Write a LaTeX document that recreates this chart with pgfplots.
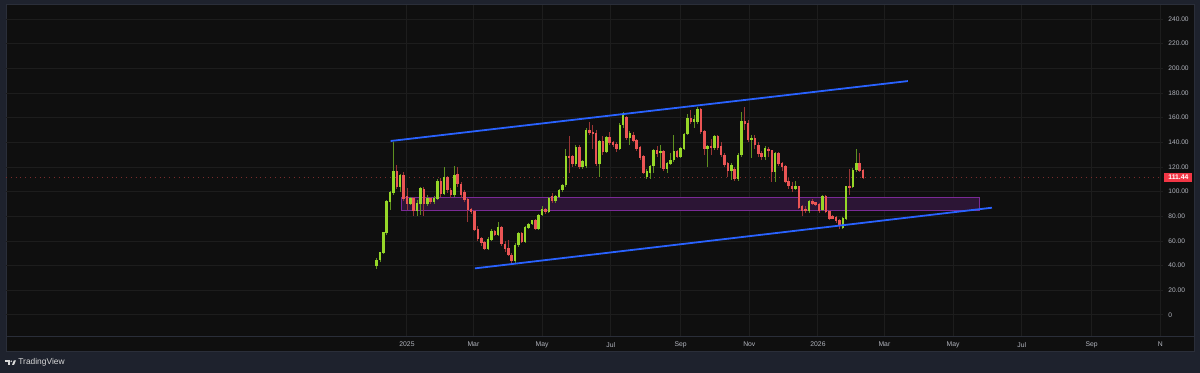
\documentclass[border=0pt]{standalone}
\usepackage{fontspec}
\setmainfont{Liberation Sans}
\usepackage{pgfplots}
\usepackage{pgfplotstable}
\pgfplotsset{compat=1.18}
\definecolor{outerbg}{HTML}{1E222D}
\definecolor{panelbg}{HTML}{0F0F0F}
\definecolor{panelborder}{HTML}{2A2E39}
\definecolor{gridc}{HTML}{1D1D1D}
\definecolor{upbody}{HTML}{96D728}
\definecolor{upwick}{HTML}{5E9020}
\definecolor{dnbody}{HTML}{EB5555}
\definecolor{dnwick}{HTML}{9A3535}
\definecolor{trendblue}{HTML}{2962FF}
\definecolor{zonefill}{HTML}{2C1535}
\definecolor{zoneedge}{HTML}{7A2A96}
\definecolor{labelc}{HTML}{B2B5BE}
\definecolor{pricered}{HTML}{F23645}
\definecolor{pline}{HTML}{7A2C2C}

\pgfplotstableread{
d o h l c
-27 40 46 37 44.6
-24 44.6 51.3 43 50.5
-21 50.5 67.5 49.5 66.8
-18 66.8 93 65 92
-15 92 100.5 85 99.2
-12 99.2 140.5 97 116.8
-6 104 114.5 100 113
3 90.5 96 89 94.6
9 84.3 93 80 90.5
12 90 104 81 102.7
18 90.5 97 88 94.6
24 92 96.5 90 94.6
27 94.6 110 93 108
33 98.6 120 97 111.4
42 97.3 120.8 96 113.5
72 54 63 53 61.4
75 61.4 70 60 67.6
81 65.4 75.7 64 70.8
96 44.1 58 42 56.8
99 56.8 67 55 66.2
105 59.5 72 58 70.8
108 70.8 75 70 73.8
111 73.8 77 73 76.5
117 70.3 82 69 81.1
120 81.1 88 80 85.7
126 84 96 83 94.6
132 93 97 91 96
135 96 102 95 101.4
138 101.4 106.5 100 105.4
141 105.4 135 104 129
150 122.5 138 121 135.7
156 120.3 126 118 124.3
159 121 152 119 150
171 123 142 112 140.5
177 132.5 145 131 143.8
189 135.2 156 134 154
192 154 165 152 162.2
198 144 149 138 147.3
213 112.2 118 110 116.8
216 115.7 122 110 120.8
219 120.8 135 115 133.8
225 131.5 138 119.5 132.5
231 119 124 115 123
234 123 131 122 125.7
237 125.7 146 124 132.5
243 128.4 136 127 135.2
246 135.2 147.5 134 146.8
249 146.8 163 146 159.5
255 156.8 162 152 158.5
258 157 169 155 167
267 135.2 138 120.3 136.5
273 135.7 146 134 144.6
288 116.8 123 109.5 121.6
294 110.3 131 109 129.8
297 129.8 164.3 128 156.8
306 141.9 146 127 143.2
318 128.4 137 126 135
327 116.2 132 108 131
345 102.5 108.6 101 104.5
357 84.4 93.5 83 92.4
369 85.1 97.5 84 96.5
387 71.1 79.5 70 78.4
390 78.4 105 77 104.1
396 104.1 119 103 117.6
399 117.6 134.3 116 123
}\upc

\pgfplotstableread{
d o h l c
-9 116.8 122 102 104
-3 113 116 92.5 94.6
0 96 103 85 90.5
6 94.6 96 80 84.3
15 101.9 104 80 90
21 94.6 96 90 92
30 108 111 96 98.6
36 111.4 113 99 101.4
39 101.4 103 95 97.3
45 114 120 104 106.2
48 106.2 108 95 97.3
51 99.2 101 92 93.8
54 93.8 95 75.7 85.2
57 85.7 87 82 83.5
60 84 85 68 69.5
63 69.5 72 60 62.2
66 62.2 63 56 58.7
69 58.7 60 53 54
78 68.1 69 64 65.4
84 70.8 72 56 57.6
87 57.6 60 51 53.5
90 54 61 48 48.7
93 48.7 50 42 44.1
102 66.2 67 58 59.5
114 76.5 78 69 70.3
123 85.7 87 82 84
129 96 99 91 93
144 129 145 115 127.5
147 128.4 130 120 122.5
153 135.7 138 118 120.3
162 150 156.8 146 148.1
165 148.1 154 135 146.8
168 147.3 150 121 123
174 140.5 145 130 132.5
180 143.8 148 138 140
183 140 141 136 137.9
186 138.4 140 132 135.2
195 160 161 142 144
201 146 148 140 141.4
204 141.4 143 133 135.2
207 135.7 137 126 127.9
210 128.4 130 114 115.7
222 133.8 137 128 131.1
228 133 134 117 119
240 133 134 127 128.4
252 159.5 166 155 156.8
261 167 168 147 148.7
264 148.7 150 129.8 135.2
270 137 143 130 135.5
276 144.6 146 134 136
279 136.5 140 128 129.8
282 129.8 131 120 121.6
285 123 124 112 116.8
291 118.4 120 109 110.3
300 156.8 169 150 155.4
303 155.4 158 140 141.9
309 143.2 146 135 137.8
312 137.8 140 128 131
315 131 133 126 128.4
321 134.5 136 128 133.8
324 133.8 134 108 116.2
330 131 132 121 123
333 123 124 117 120.3
336 120.8 122 107 108.1
339 108.1 111 102 104.6
342 104.6 108 100 102.5
348 104 105 86 87
351 87.8 89 80.3 84.5
354 86 88 83 84.6
360 92.4 94 89 90.3
363 91 92 88 89.7
366 89.7 91 83 84.6
372 96 97 83 83.8
375 83.8 85 77 78.4
378 80.3 81 77.5 78.4
381 79.2 80 75 76.5
384 77 78 69.5 72.2
393 104.6 118 97.3 103.8
402 123 131 116 117
405 117 118.5 110 111.44
}\dnc

\begin{document}
\begin{tikzpicture}[x=1pt,y=1pt]
\useasboundingbox (0,0) rectangle (600,186.5);
\fill[outerbg] (0,0) rectangle (600,186.5);
\fill[panelbg] (3,10.5) rectangle (597,184);
\draw[panelborder, line width=0.5pt] (3,10.5) rectangle (597,184);
\begin{axis}[
  at={(3pt,18pt)}, anchor=south west,
  width=578.5pt, height=166pt, scale only axis,
  xmin=-356.1, xmax=671.4, ymin=-17.84, ymax=251.4,
  axis line style={draw=none},
  major tick length=0pt,
  grid=major, major grid style={color=gridc, line width=0.5pt},
  xtick={0,59,120,181,243,304,365,424,485,546,608,669},
  xticklabels={2025,Mar,May,Jul,Sep,Nov,2026,Mar,May,Jul,Sep,N},
  xticklabel style={font=\fontsize{3.4}{4}\selectfont, text=labelc, anchor=center, yshift=-3.8pt, inner sep=0pt},
  ytick={0,20,...,240},
  yticklabels={0,20.00,40.00,60.00,80.00,100.00,120.00,140.00,160.00,180.00,200.00,220.00,240.00},
  yticklabel pos=right,
  yticklabel style={font=\fontsize{3.3}{4}\selectfont, text=labelc, anchor=west, inner sep=0pt, xshift=2.5pt},
  clip mode=individual,
]
% zone
\addplot[fill=zonefill, draw=zoneedge, line width=0.5pt] coordinates {(-5.3,84.6) (508,84.6) (508,95.1) (-5.3,95.1) (-5.3,84.6)};
% price line
\addplot[color=pline, dotted, line width=0.4pt] coordinates {(-356.1,111.44) (671.4,111.44)};
% wicks
\addplot[draw=none, mark=none, error bars/.cd, y dir=both, y explicit, error mark=none,
  error bar style={draw=upwick, line width=0.45pt, solid}]
  table[x=d, y expr={(\thisrow{h}+\thisrow{l})/2}, y error expr={(\thisrow{h}-\thisrow{l})/2}] {\upc};
\addplot[draw=none, mark=none, error bars/.cd, y dir=both, y explicit, error mark=none,
  error bar style={draw=dnwick, line width=0.45pt, solid}]
  table[x=d, y expr={(\thisrow{h}+\thisrow{l})/2}, y error expr={(\thisrow{h}-\thisrow{l})/2}] {\dnc};
% bodies
\addplot[draw=none, mark=none, error bars/.cd, y dir=both, y explicit, error mark=none,
  error bar style={draw=upbody, line width=1.25pt, solid}]
  table[x=d, y expr={(\thisrow{o}+\thisrow{c})/2}, y error expr={abs(\thisrow{c}-\thisrow{o})/2+0.3}] {\upc};
\addplot[draw=none, mark=none, error bars/.cd, y dir=both, y explicit, error mark=none,
  error bar style={draw=dnbody, line width=1.25pt, solid}]
  table[x=d, y expr={(\thisrow{o}+\thisrow{c})/2}, y error expr={abs(\thisrow{c}-\thisrow{o})/2+0.3}] {\dnc};
% trend lines
\addplot[color=trendblue, line width=0.9pt] coordinates {(-14.5,141.1) (444.8,189.7)};
\addplot[color=trendblue, line width=0.9pt] coordinates {(60.3,37.8) (519.5,87.0)};
\coordinate (pl) at (axis cs:671.4,111.44);
\end{axis}
\draw[panelborder, line width=0.5pt] (3,18) -- (597,18);
\node[fill=pricered, text=white, anchor=west, inner sep=0pt, minimum height=4.4pt, minimum width=14pt,
  font=\fontsize{3.4}{4}\selectfont\bfseries] at ([xshift=0.5pt]pl) {111.44};
% logo
\fill[white!85!black] (2.6,5.6) rectangle (4.9,6.3);
\fill[white!85!black] (3.9,4.0) rectangle (4.9,6.3);
\fill[white!85!black] (5.6,5.85) circle (0.45);
\fill[white!85!black] (6.0,4.0) -- (6.9,6.3) -- (8.0,6.3) -- (7.0,4.0) -- cycle;
\node[anchor=west, inner sep=0pt, text=white!85!black, font=\fontsize{4.2}{5}\selectfont] at (9,5.15) {TradingView};
\end{tikzpicture}
\end{document}
